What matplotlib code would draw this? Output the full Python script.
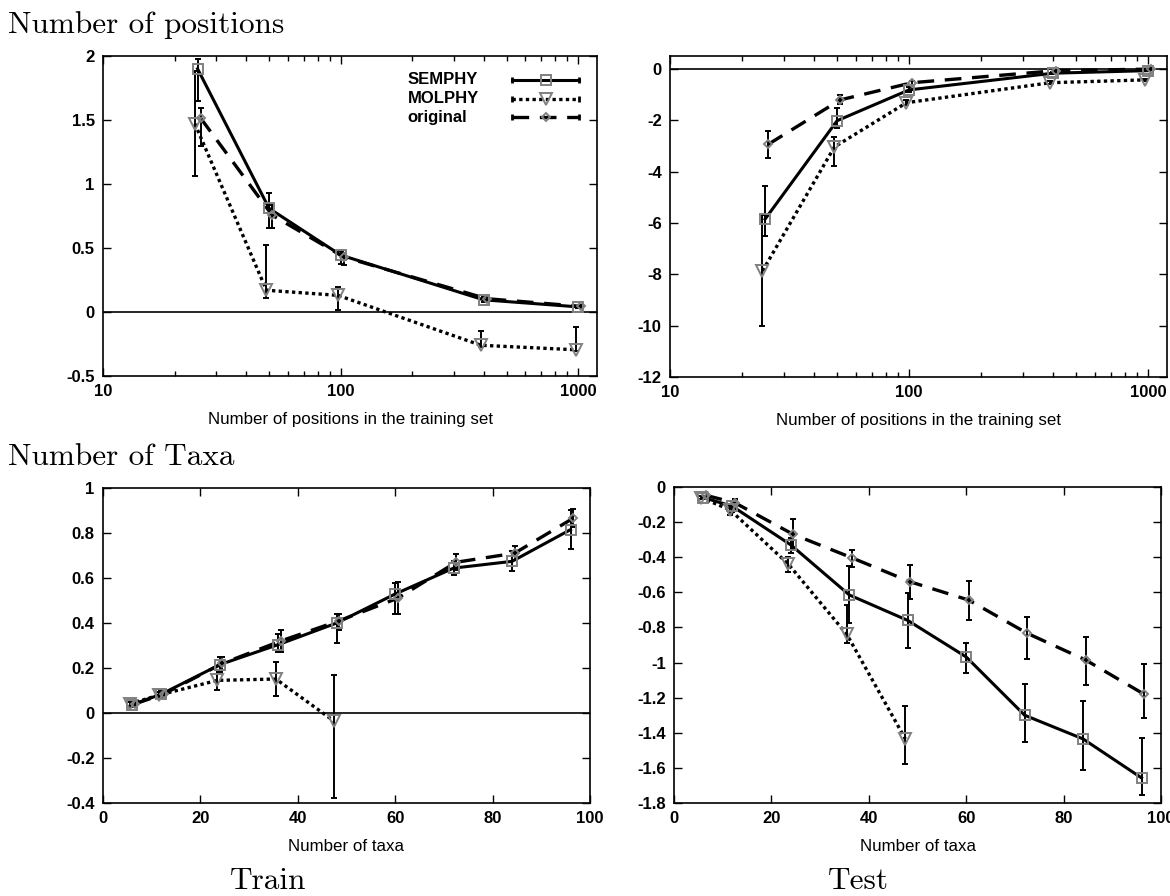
import matplotlib
matplotlib.use('Agg')
import matplotlib.pyplot as plt
from matplotlib.ticker import FuncFormatter, LogLocator, MultipleLocator, NullFormatter

plt.rcParams['font.family'] = ['Liberation Sans', 'DejaVu Sans']
plt.rcParams['axes.unicode_minus'] = False

labels = ['SEMPHY', 'MOLPHY', 'original']

# x values
pos_x = [25, 50, 100, 400, 1000]
taxa_x = [6, 12, 24, 36, 48, 60, 72, 84, 96]

# train / number of positions  (err = [below, above])
tr_pos_sem = [1.90, 0.81, 0.445, 0.095, 0.04]
tr_pos_sem_err = [[0.25, 0.15, 0.07, 0.02, 0.01], [0.08, 0.12, 0.03, 0.02, 0.01]]
tr_pos_mol = [1.47, 0.17, 0.13, -0.26, -0.295]
tr_pos_mol_err = [[0.41, 0.06, 0.115, 0.01, 0.01], [0.41, 0.35, 0.065, 0.11, 0.175]]
tr_pos_org = [1.515, 0.757, 0.43, 0.104, 0.044]
tr_pos_org_err = [[0.22, 0.10, 0.065, 0.02, 0.01], [0.08, 0.08, 0.03, 0.02, 0.01]]

# test / number of positions
te_pos_sem = [-5.85, -2.02, -0.82, -0.17, -0.07]
te_pos_sem_err = [[0.65, 0.30, 0.10, 0.05, 0.03], [1.28, 0.48, 0.10, 0.05, 0.03]]
te_pos_mol = [-7.87, -3.04, -1.32, -0.54, -0.43]
te_pos_mol_err = [[2.16, 0.76, 0.10, 0.05, 0.05], [2.16, 0.39, 0.10, 0.05, 0.05]]
te_pos_org = [-2.94, -1.21, -0.54, -0.07, -0.01]
te_pos_org_err = [[0.53, 0.15, 0.08, 0.04, 0.03], [0.53, 0.20, 0.08, 0.04, 0.03]]

# train / number of taxa
tr_tax_sem = [0.037, 0.084, 0.215, 0.304, 0.40, 0.529, 0.644, 0.674, 0.815]
tr_tax_sem_err = [[0.01, 0.015, 0.035, 0.035, 0.09, 0.09, 0.03, 0.045, 0.085],
                  [0.01, 0.015, 0.035, 0.045, 0.04, 0.05, 0.03, 0.045, 0.085]]
tr_tax_mol = [0.04, 0.08, 0.145, 0.151, -0.037]
tr_tax_mol_err = [[0.01, 0.015, 0.045, 0.075, 0.34], [0.01, 0.015, 0.045, 0.075, 0.207]]
tr_tax_org = [0.04, 0.085, 0.22, 0.32, 0.41, 0.51, 0.67, 0.71, 0.865]
tr_tax_org_err = [[0.01, 0.015, 0.03, 0.05, 0.04, 0.07, 0.035, 0.03, 0.04],
                  [0.01, 0.015, 0.03, 0.05, 0.03, 0.07, 0.035, 0.03, 0.04]]

# test / number of taxa
te_tax_sem = [-0.06, -0.11, -0.33, -0.615, -0.76, -0.968, -1.30, -1.435, -1.657]
te_tax_sem_err = [[0.01, 0.03, 0.045, 0.16, 0.155, 0.09, 0.15, 0.175, 0.10],
                  [0.01, 0.03, 0.04, 0.165, 0.155, 0.08, 0.18, 0.215, 0.23]]
te_tax_mol = [-0.06, -0.13, -0.44, -0.84, -1.435]
te_tax_mol_err = [[0.01, 0.03, 0.045, 0.05, 0.145], [0.01, 0.03, 0.04, 0.17, 0.185]]
te_tax_org = [-0.047, -0.09, -0.27, -0.403, -0.54, -0.644, -0.833, -0.985, -1.18]
te_tax_org_err = [[0.01, 0.02, 0.09, 0.05, 0.10, 0.113, 0.147, 0.145, 0.136],
                  [0.01, 0.02, 0.09, 0.045, 0.093, 0.108, 0.094, 0.131, 0.17]]

GRAY = '#808080'
styles = [
    dict(ls='-', lw=2.2, marker='s', ms=7.5),
    dict(ls=(0, (1, 1)), lw=2.4, marker='v', ms=9),
    dict(ls=(0, (5, 3.2)), lw=2.4, marker='D', ms=4.5),
]
log_shift = [1.0, 0.975, 1.03]
lin_shift = [0.0, -0.5, 0.5]

fmt = FuncFormatter(lambda v, p: '%g' % v)


def draw(ax, xs, ys, errs, logx):
    for i in range(3):
        x = xs[:len(ys[i])]
        if logx:
            x = [v * log_shift[i] for v in x]
        else:
            x = [v + lin_shift[i] for v in x]
        st = styles[i]
        ax.errorbar(x, ys[i], yerr=errs[i], fmt='none', ecolor='k', elinewidth=1.4,
                    capsize=2.5, capthick=1.4, zorder=3)
        ax.plot(x, ys[i], color='k', ls=st['ls'], lw=st['lw'], zorder=4)
        ax.plot(x, ys[i], ls='none', marker=st['marker'], ms=st['ms'], mfc='none',
                mec=GRAY, mew=1.4, zorder=5)


def style(ax, logx, xlabel):
    ax.tick_params(which='both', direction='in', top=True, right=True,
                   labelsize=12, pad=6)
    ax.tick_params(which='major', length=6, width=1)
    ax.tick_params(which='minor', length=3.5, width=1)
    for lab in ax.get_xticklabels() + ax.get_yticklabels():
        lab.set_fontweight('bold')
    if logx:
        ax.set_xscale('log')
        ax.set_xlim(10, 1200)
        ax.xaxis.set_major_locator(LogLocator(base=10))
        ax.xaxis.set_minor_locator(LogLocator(base=10, subs=range(2, 10)))
        ax.xaxis.set_minor_formatter(NullFormatter())
    else:
        ax.set_xlim(0, 100)
        ax.xaxis.set_major_locator(MultipleLocator(20))
    ax.xaxis.set_major_formatter(fmt)
    ax.yaxis.set_major_formatter(fmt)
    ax.set_xlabel(xlabel, fontsize=12.2, labelpad=9)
    for s in ax.spines.values():
        s.set_linewidth(1.2)


fig = plt.figure(figsize=(11.7, 8.96), dpi=100)
W, H = 1170.0, 896.0


def add_ax(l, t, r, b):
    return fig.add_axes([l / W, 1 - b / H, (r - l) / W, (b - t) / H])


ax1 = add_ax(103, 56, 597, 376)
ax2 = add_ax(670, 56, 1167, 377)
ax3 = add_ax(103, 488, 590, 803)
ax4 = add_ax(674, 487, 1161, 803)

for ax in (ax1, ax2, ax3):
    ax.axhline(0, color='k', lw=1.2, zorder=2)

draw(ax1, pos_x, [tr_pos_sem, tr_pos_mol, tr_pos_org],
     [tr_pos_sem_err, tr_pos_mol_err, tr_pos_org_err], True)
draw(ax2, pos_x, [te_pos_sem, te_pos_mol, te_pos_org],
     [te_pos_sem_err, te_pos_mol_err, te_pos_org_err], True)
draw(ax3, taxa_x, [tr_tax_sem, tr_tax_mol, tr_tax_org],
     [tr_tax_sem_err, tr_tax_mol_err, tr_tax_org_err], False)
draw(ax4, taxa_x, [te_tax_sem, te_tax_mol, te_tax_org],
     [te_tax_sem_err, te_tax_mol_err, te_tax_org_err], False)

ax1.set_ylim(-0.5, 2)
ax1.yaxis.set_major_locator(MultipleLocator(0.5))
ax2.set_ylim(-12, 0.5)
ax2.yaxis.set_major_locator(MultipleLocator(2))
ax3.set_ylim(-0.4, 1)
ax3.yaxis.set_major_locator(MultipleLocator(0.2))
ax4.set_ylim(-1.8, 0)
ax4.yaxis.set_major_locator(MultipleLocator(0.2))

style(ax1, True, 'Number of positions in the training set')
style(ax2, True, 'Number of positions in the training set')
style(ax3, False, 'Number of taxa')
style(ax4, False, 'Number of taxa')

# legend drawn gnuplot-style: text, then line sample with marker in the middle
for i, lab in enumerate(labels):
    y = 0.925 - i * 0.058
    st = styles[i]
    ax1.text(0.617, y, lab, transform=ax1.transAxes, fontsize=12,
             fontweight='bold', va='center', ha='left')
    ax1.plot([0.828, 0.964], [y, y], transform=ax1.transAxes, color='k',
             ls=st['ls'], lw=st['lw'], zorder=6)
    ax1.plot([0.828, 0.964], [y, y], transform=ax1.transAxes, ls='none',
             marker='|', ms=5, mew=2, color='k', zorder=6)
    ax1.plot([0.896], [y], transform=ax1.transAxes, ls='none', marker=st['marker'],
             ms=st['ms'], mfc='none', mec=GRAY, mew=1.4, zorder=7)

serif = dict(family='cmr10', fontsize=22.5, va='baseline')
fig.text(8 / W, 1 - 33 / H, 'Number of positions', **serif)
fig.text(8 / W, 1 - 465 / H, 'Number of Taxa', **serif)
fig.text(268 / W, 1 - 889 / H, 'Train', ha='center', **serif)
fig.text(858 / W, 1 - 889 / H, 'Test', ha='center', **serif)

fig.savefig('out.png', dpi=100)
